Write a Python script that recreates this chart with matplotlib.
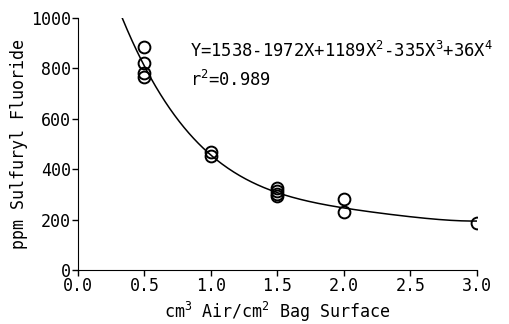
import numpy as np
import matplotlib
matplotlib.use("Agg")
import matplotlib.pyplot as plt

plt.rcParams['font.family'] = ['DejaVu Sans Mono']
plt.rcParams['mathtext.fontset'] = 'custom'
plt.rcParams['mathtext.rm'] = 'DejaVu Sans Mono'
plt.rcParams['mathtext.it'] = 'DejaVu Sans Mono'
plt.rcParams['mathtext.default'] = 'rm'

x_obs = [0.5, 0.5, 0.5, 0.5, 1.0, 1.0, 1.5, 1.5, 1.5, 1.5, 2.0, 2.0, 3.0]
y_obs = [885, 821, 782, 766, 468, 452, 325, 312, 300, 292, 282, 230, 187]
coefs = [1538, -1972, 1189, -335, 36]  # ascending powers
x_ticks = [0.0, 0.5, 1.0, 1.5, 2.0, 2.5, 3.0]
y_ticks = [0, 200, 400, 600, 800, 1000]

fig = plt.figure(figsize=(5.09, 3.24), dpi=100)
ax = fig.add_axes([0.153, 0.167, 0.784, 0.777])

xf = np.linspace(0.335, 3.0, 300)
yf = sum(c * xf**i for i, c in enumerate(coefs))
ax.plot(xf, yf, color='black', lw=1.1)
ax.plot(x_obs, y_obs, 'o', mfc='none', mec='black', ms=8.5, mew=1.4)

ax.set_xlim(0, 3.0)
ax.set_ylim(0, 1000)
ax.set_xticks(x_ticks)
ax.set_xticklabels([f"{v:.1f}" for v in x_ticks])
ax.set_yticks(y_ticks)
for s in ['top', 'right']:
    ax.spines[s].set_visible(False)
ax.tick_params(labelsize=12, length=4, width=1, pad=1)
ax.set_ylabel('ppm Sulfuryl Fluoride', fontsize=12, labelpad=2)
ax.set_xlabel(r'cm$^3$ Air/cm$^2$ Bag Surface', fontsize=12, labelpad=4)

ax.text(0.282, 0.87, r'Y=1538-1972X+1189X$^2$-335X$^3$+36X$^4$', transform=ax.transAxes,
        fontsize=12.3, va='center', ha='left')
ax.text(0.282, 0.755, r'r$^2$=0.989', transform=ax.transAxes,
        fontsize=12.3, va='center', ha='left')

fig.savefig('out.png', dpi=100)
